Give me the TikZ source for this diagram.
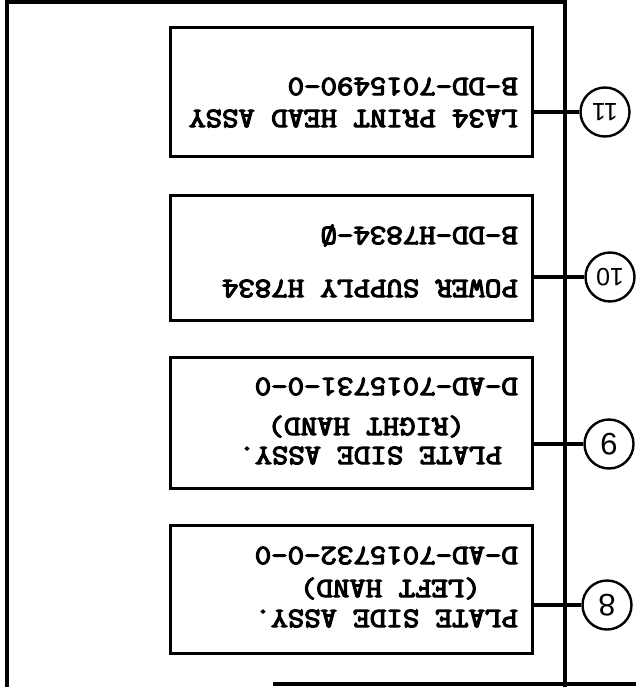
\documentclass[tikz,border=0pt]{standalone}
\usepackage{fontspec}
\usepackage{graphicx}
\newfontfamily\typew{Latin Modern Mono}[FakeBold=4]
\setsansfont{Liberation Sans}
\newcommand{\tw}[1]{\scalebox{1.14}[1]{#1}}
\begin{document}
\begin{tikzpicture}[x=1pt,y=-1pt,
  box/.style={draw,line width=3pt,rectangle,inner sep=0pt,minimum width=362pt},
  circ/.style={draw,line width=2.4pt,circle,inner sep=0pt,minimum size=49pt,rotate=180,font=\sffamily\fontsize{31}{31}\selectfont},
  circtwo/.style={circ,font=\sffamily\fontsize{25}{25}\selectfont},
  lbl/.style={rotate=180,inner sep=0pt,anchor=base west,font=\typew\fontsize{28}{28}\selectfont},
  conn/.style={line width=3.5pt},
  frame/.style={line width=4pt}]
\useasboundingbox (0,0) rectangle (636,687);
% frame lines
\coordinate (fl) at (7,687);
\coordinate (ftl) at (7,2);
\coordinate (ftr) at (565,2);
\coordinate (vt) at (565,0);
\coordinate (vb) at (565,687);
\coordinate (hb1) at (273,684);
\coordinate (hb2) at (636,684);
\draw[frame] (fl) -- (ftl) -- (ftr);
\draw[frame] (vt) -- (vb);
\draw[frame] (hb1) -- (hb2);
% boxes
\node[box,minimum height=129pt] (b11) at (351,92.5) {};
\node[box,minimum height=125pt] (b10) at (351,257.5) {};
\node[box,minimum height=131pt] (b9) at (351,422.5) {};
\node[box,minimum height=128pt] (b8) at (351,589) {};
% texts
\node[lbl] (t11a) at (518,78) {\tw{B-DD-7015490-0}};
\node[lbl] (t11b) at (518,110) {\tw{LA34 PRINT HEAD ASSY}};
\node[lbl] (t10a) at (518,227) {\tw{B-DD-H7834-Ø}};
\node[lbl] (t10b) at (518,280) {\tw{POWER SUPPLY H7834}};
\node[lbl] (t9a) at (518,378) {\tw{D-AD-7015731-0-0}};
\node[lbl] (t9b) at (465,418) {\tw{(RIGHT HAND)}};
\node[lbl] (t9c) at (502,447) {\tw{PLATE SIDE ASSY.}};
\node[lbl] (t8a) at (518,547) {\tw{D-AD-7015732-0-0}};
\node[lbl] (t8b) at (481,580) {\tw{(LEFT HAND)}};
\node[lbl] (t8c) at (518,610) {\tw{PLATE SIDE ASSY.}};
% circles
\node[circtwo] (c11) at (605,112) {11};
\node[circtwo] (c10) at (610,277) {10};
\node[circ] (c9) at (609,444) {9};
\node[circ] (c8) at (607,605) {8};
% connectors (circles are turned half round, so their east anchor faces the boxes)
\draw[conn] (b11.east |- c11.east) -- (c11.east);
\draw[conn] (b10.east |- c10.east) -- (c10.east);
\draw[conn] (b9.east |- c9.east) -- (c9.east);
\draw[conn] (b8.east |- c8.east) -- (c8.east);
\end{tikzpicture}
\end{document}
